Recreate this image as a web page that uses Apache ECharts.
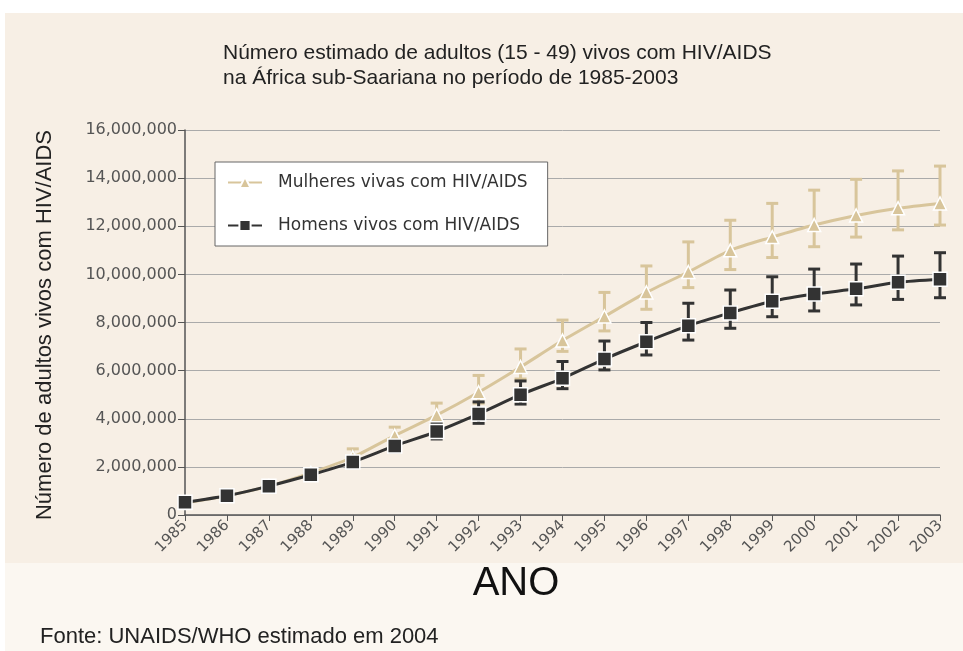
<!DOCTYPE html>
<html>
<head>
<meta charset="utf-8">
<script src="https://cdn.jsdelivr.net/npm/echarts@6/dist/echarts.min.js"></script>
<style>
html,body{margin:0;padding:0;background:#ffffff;}
#chart{width:963px;height:651px;}
</style>
</head>
<body>
<div id="chart"></div>
<script>
const years = ['1985','1986','1987','1988','1989','1990','1991','1992','1993','1994','1995','1996','1997','1998','1999','2000','2001','2002','2003'];
const women = [0.5,0.8,1.2,1.75,2.4,3.3,4.15,5.1,6.15,7.25,8.25,9.25,10.1,11.0,11.55,12.05,12.45,12.75,12.95];
const womenLow = [null,null,null,null,2.25,3.0,3.8,4.65,5.65,6.8,7.65,8.55,9.45,10.2,10.7,11.15,11.55,11.85,12.05];
const womenHigh = [null,null,null,null,2.75,3.65,4.65,5.8,6.9,8.1,9.25,10.35,11.35,12.25,12.95,13.5,13.95,14.3,14.5];
const men = [0.53,0.8,1.2,1.67,2.2,2.87,3.47,4.2,5.0,5.68,6.48,7.2,7.87,8.4,8.88,9.18,9.4,9.67,9.8];
const menLow = [null,null,null,null,null,2.63,3.16,3.81,4.61,5.25,6.03,6.65,7.27,7.76,8.24,8.48,8.73,8.96,9.03];
const menHigh = [null,null,null,null,null,3.05,3.8,4.7,5.57,6.38,7.23,8.0,8.8,9.35,9.9,10.22,10.43,10.76,10.9];

const M = 1e6;
const TAN = '#d8c59b';
const DARK = '#333333';

function errData(low, high) {
  const out = [];
  for (let i = 0; i < years.length; i++) {
    if (low[i] != null && high[i] != null) out.push([i, low[i] * M, high[i] * M]);
  }
  return out;
}

function errRender(color) {
  return function (params, api) {
    const x = api.value(0);
    const lo = api.coord([x, api.value(1)]);
    const hi = api.coord([x, api.value(2)]);
    const hw = 6;
    const st = { stroke: color, lineWidth: 3, fill: null };
    return {
      type: 'group',
      children: [
        { type: 'line', shape: { x1: lo[0], y1: lo[1], x2: hi[0], y2: hi[1] }, style: st },
        { type: 'line', shape: { x1: lo[0] - hw, y1: lo[1], x2: lo[0] + hw, y2: lo[1] }, style: st },
        { type: 'line', shape: { x1: hi[0] - hw, y1: hi[1], x2: hi[0] + hw, y2: hi[1] }, style: st }
      ]
    };
  };
}

const chart = echarts.init(document.getElementById('chart'), null, { renderer: 'canvas' });
const FONT = '"Liberation Sans", Arial, sans-serif';
const FONT2 = '"DejaVu Sans", Verdana, sans-serif';

chart.setOption({
  backgroundColor: '#ffffff',
  animation: false,
  textStyle: { fontFamily: FONT },
  graphic: [
    { type: 'rect', z: -10, silent: true, shape: { x: 5, y: 13, width: 958, height: 550 }, style: { fill: '#f7efe5' } },
    { type: 'rect', z: -10, silent: true, shape: { x: 5, y: 563, width: 958, height: 88 }, style: { fill: '#fbf7f1' } },
    { type: 'text', x: 45, y: 325, rotation: Math.PI / 2,
      style: { text: 'Número de adultos vivos com HIV/AIDS', font: '22px ' + FONT, fill: '#222222', textAlign: 'center', textVerticalAlign: 'middle' } },
    { type: 'text', x: 516, y: 584, style: { text: 'ANO', font: '40px ' + FONT, fill: '#111111', textAlign: 'center', textVerticalAlign: 'middle' } },
    { type: 'text', x: 40, y: 637, style: { text: 'Fonte: UNAIDS/WHO estimado em 2004', font: '22px ' + FONT, fill: '#222222', textAlign: 'left', textVerticalAlign: 'middle' } }
  ],
  title: {
    text: 'Número estimado de adultos (15 - 49) vivos com HIV/AIDS\nna África sub-Saariana no período de 1985-2003',
    left: 218,
    top: 36,
    textStyle: { fontFamily: FONT, fontSize: 21, fontWeight: 'normal', color: '#222222', lineHeight: 25 }
  },
  legend: {
    orient: 'vertical',
    left: 215,
    top: 162,
    padding: [12, 20, 12, 12],
    itemGap: 26,
    itemWidth: 34,
    itemHeight: 14,
    backgroundColor: '#ffffff',
    borderColor: '#666666',
    borderWidth: 1,
    textStyle: { fontFamily: FONT2, fontSize: 17, color: '#333333', padding: [0, 0, 0, 11] },
    data: ['Mulheres vivas com HIV/AIDS', 'Homens vivos com HIV/AIDS']
  },
  grid: { left: 185, right: 23, top: 130, bottom: 136, containLabel: false },
  xAxis: {
    type: 'category',
    data: years,
    boundaryGap: false,
    axisLine: { lineStyle: { color: '#555555', width: 1.5 } },
    axisTick: { length: 6, lineStyle: { color: '#555555' } },
    axisLabel: { rotate: 45, fontSize: 15, color: '#555555', margin: 8, fontFamily: FONT2 },
    splitLine: { show: false }
  },
  yAxis: {
    type: 'value',
    min: 0,
    max: 16 * M,
    interval: 2 * M,
    axisLine: { show: true, lineStyle: { color: '#555555', width: 1.5 } },
    axisTick: { show: true, length: 7, lineStyle: { color: '#555555' } },
    axisLabel: {
      fontSize: 16, color: '#555555', margin: 8, fontFamily: FONT2,
      formatter: function (v) { return v === 0 ? '0' : v.toLocaleString('en-US'); }
    },
    splitLine: { show: true, lineStyle: { color: '#aaaaaa', width: 1 } }
  },
  series: [
    {
      type: 'custom',
      name: 'errWomen',
      renderItem: errRender(TAN),
      data: errData(womenLow, womenHigh),
      z: 2,
      silent: true
    },
    {
      type: 'custom',
      name: 'errMen',
      renderItem: errRender(DARK),
      data: errData(menLow, menHigh),
      z: 3,
      silent: true
    },
    {
      type: 'line',
      name: 'Mulheres vivas com HIV/AIDS',
      data: women.map(v => v * M),
      smooth: 0.25,
      symbol: 'triangle',
      symbolSize: 13,
      lineStyle: { color: TAN, width: 3 },
      itemStyle: { color: TAN, borderColor: '#ffffff', borderWidth: 1.5 },
      z: 4
    },
    {
      type: 'line',
      name: 'Homens vivos com HIV/AIDS',
      data: men.map(v => v * M),
      smooth: 0.25,
      symbol: 'rect',
      symbolSize: 14,
      lineStyle: { color: DARK, width: 3 },
      itemStyle: { color: DARK, borderColor: '#ffffff', borderWidth: 1.5 },
      z: 5
    }
  ]
});
</script>
</body>
</html>
